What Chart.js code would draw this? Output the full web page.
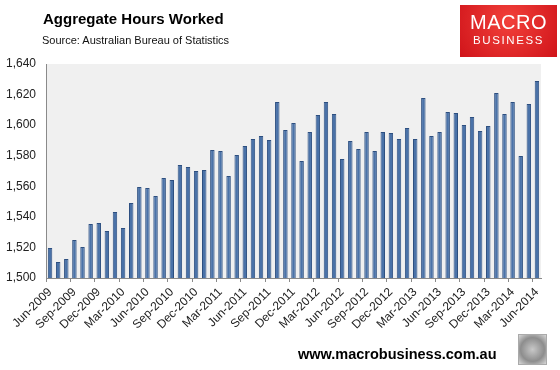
<!DOCTYPE html>
<html lang="en">
  <head>
    <meta charset="UTF-8" />
    <title>Aggregate Hours Worked</title>
    <script src="https://cdn.jsdelivr.net/npm/chart.js"></script>
    <style>
      body {
        margin: 0;
        background: #fff;
        font-family: "Liberation Sans", Arial, sans-serif;
      }
      .wrap {
        position: relative;
        width: 560px;
        height: 370px;
        overflow: hidden;
      }
      canvas {
        position: absolute;
        left: 0;
        top: 0;
      }
      .title {
        position: absolute;
        left: 43px;
        top: 10px;
        font-size: 15px;
        font-weight: bold;
        color: #000;
      }
      .source {
        position: absolute;
        left: 42px;
        top: 34px;
        font-size: 11px;
        color: #111;
      }
      .logo {
        position: absolute;
        left: 460px;
        top: 5px;
        width: 97px;
        height: 52px;
        background: radial-gradient(circle at 50% 30%, #f2403a, #d0141a);
        color: #fff;
        text-align: center;
      }
      .logo .m {
        font-size: 20px;
        margin-top: 6px;
        letter-spacing: 0.5px;
        line-height: 22px;
      }
      .logo .b {
        font-size: 11.5px;
        letter-spacing: 1.6px;
        line-height: 14px;
      }
      .footer {
        position: absolute;
        left: 298px;
        top: 346px;
        font-size: 14.5px;
        font-weight: bold;
        color: #000;
      }
      .wolf {
        position: absolute;
        left: 518px;
        top: 334px;
        width: 27px;
        height: 29px;
        border: 1px solid #aaa;
        background: radial-gradient(circle at 50% 50%, #c8c8c8, #8d8d8d 60%, #d8d8d8);
      }
    </style>
  </head>
  <body>
    <div class="wrap">
      <canvas id="chart" width="560" height="370"></canvas>
      <div class="title">Aggregate Hours Worked</div>
      <div class="source">Source: Australian Bureau of Statistics</div>
      <div class="logo"><div class="m">MACRO</div><div class="b">BUSINESS</div></div>
      <div class="footer">www.macrobusiness.com.au</div>
      <div class="wolf"></div>
    </div>

    <script>
      const months = [
        "Jun-2009", "Jul-2009", "Aug-2009", "Sep-2009", "Oct-2009", "Nov-2009",
        "Dec-2009", "Jan-2010", "Feb-2010", "Mar-2010", "Apr-2010", "May-2010",
        "Jun-2010", "Jul-2010", "Aug-2010", "Sep-2010", "Oct-2010", "Nov-2010",
        "Dec-2010", "Jan-2011", "Feb-2011", "Mar-2011", "Apr-2011", "May-2011",
        "Jun-2011", "Jul-2011", "Aug-2011", "Sep-2011", "Oct-2011", "Nov-2011",
        "Dec-2011", "Jan-2012", "Feb-2012", "Mar-2012", "Apr-2012", "May-2012",
        "Jun-2012", "Jul-2012", "Aug-2012", "Sep-2012", "Oct-2012", "Nov-2012",
        "Dec-2012", "Jan-2013", "Feb-2013", "Mar-2013", "Apr-2013", "May-2013",
        "Jun-2013", "Jul-2013", "Aug-2013", "Sep-2013", "Oct-2013", "Nov-2013",
        "Dec-2013", "Jan-2014", "Feb-2014", "Mar-2014", "Apr-2014", "May-2014",
        "Jun-2014"
      ];

      // million hours per month
      const hours = [
        1519.6, 1510.5, 1512.4, 1524.9, 1520.3, 1535.3, 1536.0, 1530.8, 1543.2, 1532.7,
        1549.1, 1559.5, 1558.9, 1553.6, 1565.4, 1564.1, 1573.9, 1572.6, 1570.0, 1570.7,
        1583.7, 1583.1, 1566.7, 1580.5, 1586.4, 1590.9, 1592.9, 1590.3, 1615.1, 1596.8,
        1601.4, 1576.5, 1595.5, 1606.6, 1615.1, 1607.3, 1577.9, 1589.6, 1584.4, 1595.5,
        1583.1, 1595.5, 1594.9, 1590.9, 1598.1, 1590.9, 1617.8, 1592.9, 1595.5, 1608.6,
        1608.0, 1600.1, 1605.3, 1596.2, 1599.4, 1621.0, 1607.3, 1615.1, 1579.8, 1613.8,
        1628.9
      ];

      const yMin = 1500;
      const yMax = 1640;
      const yStep = 20;

      // grey plot background
      const plotBg = {
        id: "plotBg",
        beforeDraw(chart) {
          const { ctx, chartArea } = chart;
          ctx.save();
          ctx.fillStyle = "#f0f0f0";
          ctx.fillRect(chartArea.left, chartArea.top, chartArea.right - chartArea.left, chartArea.bottom - chartArea.top);
          ctx.restore();
        },
      };

      new Chart(document.getElementById("chart"), {
        type: "bar",
        data: {
          labels: months,
          datasets: [
            {
              data: hours,
              backgroundColor: "#4a72a8",
              borderColor: "#2d4f80",
              borderWidth: 1,
              barPercentage: 0.55,
              categoryPercentage: 1,
            },
          ],
        },
        options: {
          responsive: false,
          animation: false,
          layout: { padding: { top: 64, right: 19, left: 0, bottom: 0 } },
          plugins: { legend: { display: false }, tooltip: { enabled: false } },
          scales: {
            x: {
              afterFit: (s) => { s.height = 92; },
              border: { display: true, color: "#8a8a8a" },
              grid: {
                drawOnChartArea: false,
                tickLength: 4,
                tickColor: (c) => (c.index % 3 === 0 ? "#8a8a8a" : "rgba(0,0,0,0)"),
              },
              ticks: {
                autoSkip: false,
                maxRotation: 45,
                minRotation: 45,
                color: "#222",
                font: { family: "Liberation Sans", size: 12 },
                callback: function (v, i) {
                  return i % 3 === 0 ? months[i] : "";
                },
              },
            },
            y: {
              min: yMin,
              max: yMax,
              afterFit: (s) => { s.width = 46; },
              border: { display: true, color: "#8a8a8a" },
              grid: { display: false, drawTicks: false },
              ticks: {
                stepSize: yStep,
                color: "#222",
                padding: 10,
                font: { family: "Liberation Sans", size: 12 },
                callback: (v) => v.toLocaleString("en-US"),
              },
            },
          },
        },
        plugins: [plotBg],
      });
    </script>
  </body>
</html>
